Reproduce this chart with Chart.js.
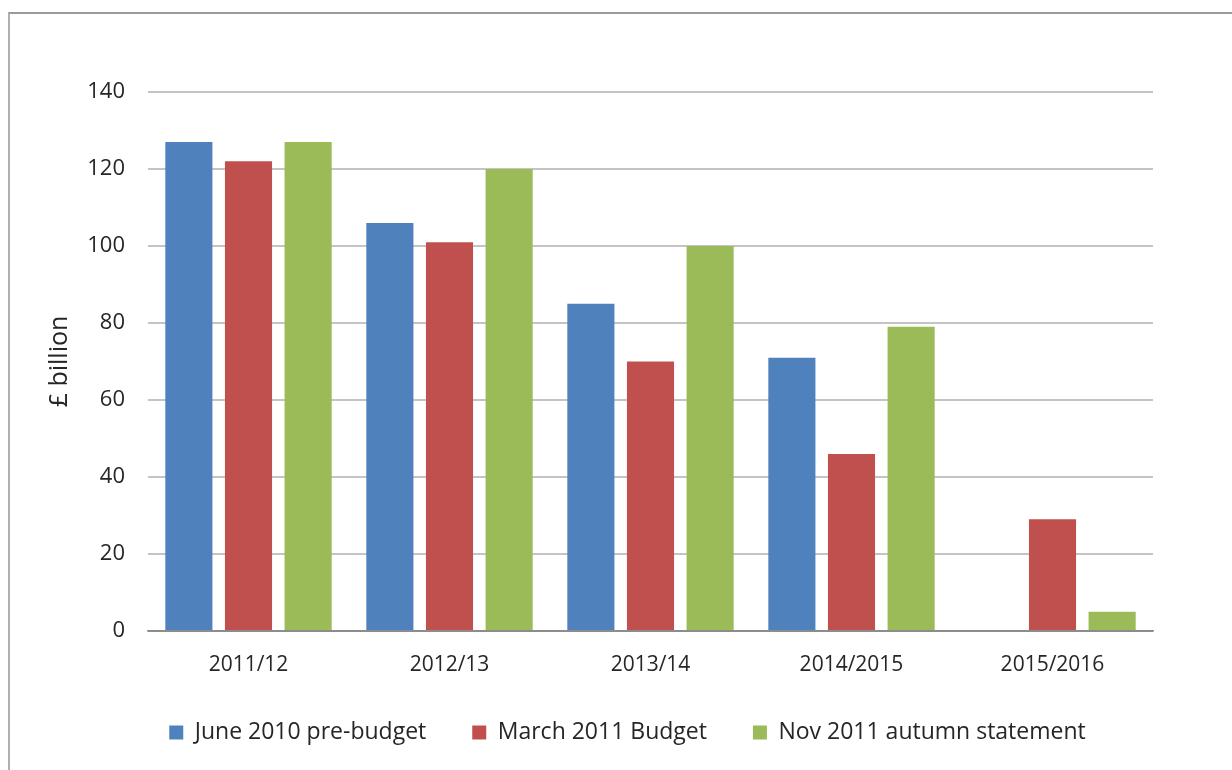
<!DOCTYPE html>
<html>
<head>
<meta charset="utf-8">
<script src="https://cdn.jsdelivr.net/npm/chart.js@4.4.1/dist/chart.umd.min.js"></script>
<style>
  html, body { margin: 0; padding: 0; background: #fff; }
  #frame {
    position: absolute; left: 8px; top: 12px; width: 1300px; height: 800px;
    border-top: 2px solid #9a9a9a; border-left: 2px solid #b0b0b0;
  }
  #wrap { position: absolute; left: 0; top: 0; width: 1232px; height: 770px; }
</style>
</head>
<body>
<div id="frame"></div>
<div id="wrap"><canvas id="debtChart"></canvas></div>
<script>
// chart data
const years = ['2011/12', '2012/13', '2013/14', '2014/2015', '2015/2016'];
const june2010 = [127, 106, 85, 71, null];
const march2011 = [122, 101, 70, 46, 29];
const nov2011 = [127, 120, 100, 79, 5];
const yTicks = [0, 20, 40, 60, 80, 100, 120, 140];

const FONT = "'Open Sans', sans-serif";
const TEXT = '#262626';

const barOpts = {
  categoryPercentage: 0.89,
  barPercentage: 0.79,
  borderWidth: 0
};

// legend in the original sits a bit right of the plot centre
const legendShift = {
  id: 'legendShift',
  afterLayout(chart) {
    chart.legend.left += 51;
    chart.legend.right += 51;
  }
};

new Chart(document.getElementById('debtChart'), {
  type: 'bar',
  data: {
    labels: years,
    datasets: [
      { label: 'June 2010 pre-budget', data: june2010, backgroundColor: '#4f81bd', ...barOpts },
      { label: 'March 2011 Budget', data: march2011, backgroundColor: '#c0504d', ...barOpts },
      { label: 'Nov 2011 autumn statement', data: nov2011, backgroundColor: '#9bbb59', ...barOpts }
    ]
  },
  plugins: [legendShift],
  options: {
    responsive: true,
    maintainAspectRatio: false,
    animation: false,
    layout: {
      padding: { left: 0, right: 79, top: 92, bottom: 16 }
    },
    plugins: {
      tooltip: { enabled: false },
      legend: {
        position: 'bottom',
        labels: {
          color: TEXT,
          font: { family: FONT, size: 23 },
          boxWidth: 14,
          boxHeight: 14,
          padding: 46
        }
      }
    },
    scales: {
      x: {
        grid: { display: false, drawTicks: false },
        border: { display: true, color: '#8c8c8c', width: 1.5 },
        ticks: {
          color: TEXT,
          font: { family: FONT, size: 21 },
          padding: 21
        },
        afterFit: (scale) => { scale.height = 44; }
      },
      y: {
        min: 0,
        max: 140,
        afterBuildTicks: (scale) => {
          scale.ticks = yTicks.map(v => ({ value: v }));
        },
        grid: {
          drawTicks: false,
          lineWidth: 2,
          color: (ctx) => ctx.tick && ctx.tick.value === 0 ? '#8c8c8c' : '#c4c4c4'
        },
        border: { display: false },
        ticks: {
          color: TEXT,
          font: { family: FONT, size: 22 },
          padding: 23
        },
        title: {
          display: true,
          text: '£ billion',
          color: TEXT,
          font: { family: FONT, size: 25 },
          padding: { top: 45, bottom: 0 }
        },
        afterFit: (scale) => { scale.width = 148; }
      }
    }
  }
});
</script>
</body>
</html>
